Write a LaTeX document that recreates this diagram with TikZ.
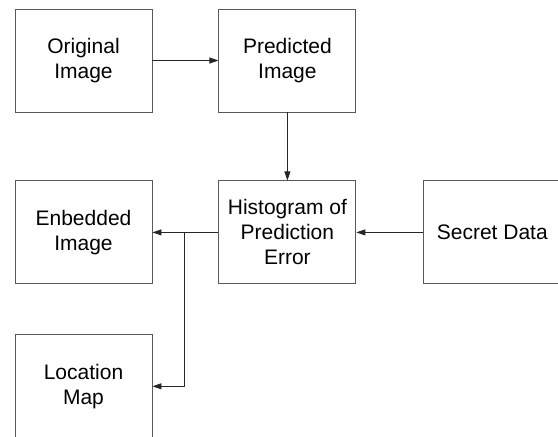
\documentclass[tikz,border=0pt]{standalone}
\usepackage{fontspec}
\setmainfont{Liberation Sans}
\usetikzlibrary{positioning, arrows.meta}

\begin{document}
\begin{tikzpicture}[x=1pt, y=1pt,
    block/.style={draw=black!65, line width=0.9pt, minimum width=137pt, minimum height=103pt,
      inner sep=0pt, align=center, font=\fontsize{21}{25}\selectfont},
    link/.style={draw=black!85, line width=0.8pt, -{Triangle[length=9pt, width=6pt]}}]
        % Frame (boxes at right and bottom run off the page)
        \useasboundingbox (0,0) rectangle (558,-437);
        \clip (0,0) rectangle (558,-437);

        % Blocks
        \node[block] (orig) at (83.5,-60.5) {Original\\Image};
        \node[block, right=66pt of orig] (pred) {Predicted\\Image};
        \node[block, below=68pt of pred] (hist) {Histogram of\\Prediction\\Error};
        \node[block, right=67pt of hist] (secret) {Secret Data};
        \node[block, left=66pt of hist] (emb) {Enbedded\\Image};
        \node[block, below=50pt of emb] (loc) {Location\\Map};

        % Connectors
        \coordinate (split) at ([xshift=-34pt]hist.west);
        \draw[link] (orig) -- (pred);
        \draw[link] (pred) -- (hist);
        \draw[link] (secret) -- (hist);
        \draw[link] (hist) -- (emb);
        \draw[link] (split) |- (loc.east);
\end{tikzpicture}
\end{document}
